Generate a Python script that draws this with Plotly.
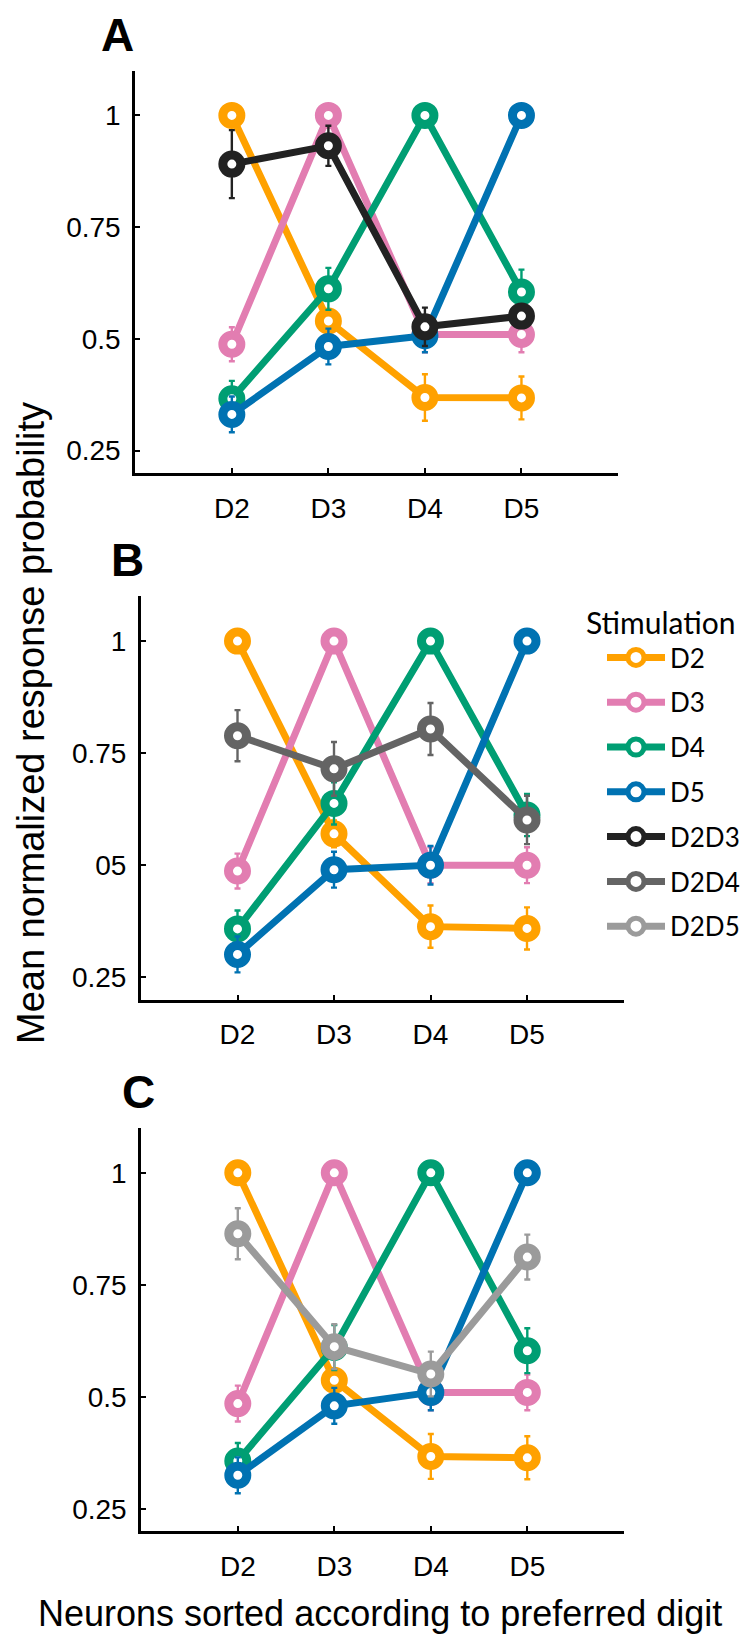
import plotly.graph_objects as go

digits = ["D2", "D3", "D4", "D5"]
ytick_vals = [0.25, 0.5, 0.75, 1]
ytick_text_a = ["0.25", "0.5", "0.75", "1"]
ytick_text_b = ["0.25", "05", "0.75", "1"]   # as printed in the original panel B
ytick_text_c = ["0.25", "0.5", "0.75", "1"]

# panel A
a_d2 = [1.0, 0.54, 0.369, 0.368]
a_d2_err = [0.0, 0.02, 0.052, 0.048]
a_d3 = [0.488, 1.0, 0.51, 0.51]
a_d3_err = [0.038, 0.0, 0.04, 0.04]
a_d4 = [0.366, 0.612, 1.0, 0.605]
a_d4_err = [0.04, 0.047, 0.0, 0.05]
a_d5 = [0.331, 0.483, 0.507, 1.0]
a_d5_err = [0.04, 0.04, 0.037, 0.0]
a_d2d3 = [0.891, 0.932, 0.527, 0.551]
a_d2d3_err = [0.076, 0.045, 0.043, 0.02]

# panel B
b_d2 = [1.0, 0.57, 0.363, 0.359]
b_d2_err = [0.0, 0.03, 0.047, 0.047]
b_d3 = [0.487, 1.0, 0.5, 0.5]
b_d3_err = [0.039, 0.0, 0.04, 0.04]
b_d4 = [0.358, 0.638, 1.0, 0.612]
b_d4_err = [0.041, 0.047, 0.0, 0.047]
b_d5 = [0.301, 0.49, 0.5, 1.0]
b_d5_err = [0.04, 0.04, 0.043, 0.0]
b_d2d4 = [0.789, 0.715, 0.804, 0.601]
b_d2d4_err = [0.057, 0.06, 0.058, 0.054]

# panel C
c_d2 = [1.0, 0.537, 0.367, 0.364]
c_d2_err = [0.0, 0.02, 0.05, 0.048]
c_d3 = [0.485, 1.0, 0.51, 0.51]
c_d3_err = [0.04, 0.0, 0.04, 0.04]
c_d4 = [0.357, 0.61, 1.0, 0.603]
c_d4_err = [0.04, 0.05, 0.0, 0.05]
c_d5 = [0.325, 0.48, 0.51, 1.0]
c_d5_err = [0.04, 0.04, 0.04, 0.0]
c_d2d5 = [0.864, 0.612, 0.551, 0.812]
c_d2d5_err = [0.057, 0.05, 0.05, 0.05]

colors = {
    "D2": "#FFA100",
    "D3": "#E27DB1",
    "D4": "#009E73",
    "D5": "#0072B2",
    "D2D3": "#222222",
    "D2D4": "#646464",
    "D2D5": "#9B9B9B",
}

panels = [
    ("x", "y", [("D2", a_d2, a_d2_err), ("D3", a_d3, a_d3_err), ("D4", a_d4, a_d4_err),
                ("D5", a_d5, a_d5_err), ("D2D3", a_d2d3, a_d2d3_err)]),
    ("x2", "y2", [("D2", b_d2, b_d2_err), ("D3", b_d3, b_d3_err), ("D4", b_d4, b_d4_err),
                  ("D5", b_d5, b_d5_err), ("D2D4", b_d2d4, b_d2d4_err)]),
    ("x3", "y3", [("D2", c_d2, c_d2_err), ("D3", c_d3, c_d3_err), ("D4", c_d4, c_d4_err),
                  ("D5", c_d5, c_d5_err), ("D2D5", c_d2d5, c_d2d5_err)]),
]

fig = go.Figure()
seen = set()
xidx = list(range(len(digits)))
for xa, ya, series in panels:
    for name, vals, errs in series:
        col = colors[name]
        fig.add_trace(go.Scatter(
            x=xidx, y=vals, xaxis=xa, yaxis=ya, name=name,
            legendgroup=name, showlegend=name not in seen,
            mode="lines+markers",
            line=dict(color=col, width=7),
            marker=dict(symbol="circle", size=18, color="white",
                        line=dict(color=col, width=9)),
            error_y=dict(type="data", array=errs, color=col, thickness=2.4, width=3),
            hoverinfo="skip",
        ))
        seen.add(name)

tick_font = dict(family="Liberation Sans, Arial, sans-serif", size=28, color="black")


def xaxis(domain, anchor):
    return dict(domain=domain, anchor=anchor, range=[-1, 4],
                tickvals=xidx, ticktext=digits, ticks="inside", ticklen=5, tickwidth=2,
                tickcolor="black", showline=True, linecolor="black", linewidth=3,
                showgrid=False, zeroline=False, tickfont=tick_font, ticklabelstandoff=8)


def yaxis(domain, anchor, labels):
    return dict(domain=domain, anchor=anchor, range=[0.2, 1.1],
                tickvals=ytick_vals, ticktext=labels, ticks="inside", ticklen=5, tickwidth=2,
                tickcolor="black", showline=True, linecolor="black", linewidth=3,
                showgrid=False, zeroline=False, tickfont=tick_font, ticklabelstandoff=6)


W, H = 750, 1636
fig.update_layout(
    width=W, height=H,
    margin=dict(l=0, r=0, t=0, b=0),
    paper_bgcolor="white", plot_bgcolor="white",
    xaxis=xaxis([127.3 / W, 610 / W], "y"),
    yaxis=yaxis([1 - 465 / H, 1 - 62.7 / H], "x", ytick_text_a),
    xaxis2=xaxis([133 / W, 615.5 / W], "y2"),
    yaxis2=yaxis([1 - 991.7 / H, 1 - 588.3 / H], "x2", ytick_text_b),
    xaxis3=xaxis([133.3 / W, 615.8 / W], "y3"),
    yaxis3=yaxis([1 - 1523.3 / H, 1 - 1120 / H], "x3", ytick_text_c),
    legend=dict(
        x=576 / W, y=1 - 587 / H, xanchor="left", yanchor="top",
        title=dict(text="Stimulation", font=dict(family="Lato, sans-serif", size=30, color="black")),
        font=dict(family="Lato, sans-serif", size=26, color="black"),
        tracegroupgap=8, indentation=18, itemwidth=58, bgcolor="rgba(0,0,0,0)",
    ),
    showlegend=True,
)

letter_font = dict(family="Liberation Sans, Arial, sans-serif", size=46, color="black")
for txt, cx, cy in [("<b>A</b>", 109, 27), ("<b>B</b>", 119, 552), ("<b>C</b>", 130, 1084)]:
    fig.add_annotation(text=txt, x=cx / W, y=1 - cy / H, xref="paper", yref="paper",
                       showarrow=False, font=letter_font, xanchor="center", yanchor="middle")

fig.add_annotation(text="Neurons sorted according to preferred digit", x=372 / W, y=1 - 1605 / H,
                   xref="paper", yref="paper", showarrow=False,
                   font=dict(family="Liberation Sans, Arial, sans-serif", size=36, color="black"),
                   xanchor="center", yanchor="middle")
fig.add_annotation(text="Mean normalized response probability", x=23 / W, y=1 - 715 / H,
                   xref="paper", yref="paper", showarrow=False,
                   font=dict(family="Liberation Sans, Arial, sans-serif", size=38, color="black"),
                   textangle=-90, xanchor="center", yanchor="middle")

fig.write_html("out.html")
